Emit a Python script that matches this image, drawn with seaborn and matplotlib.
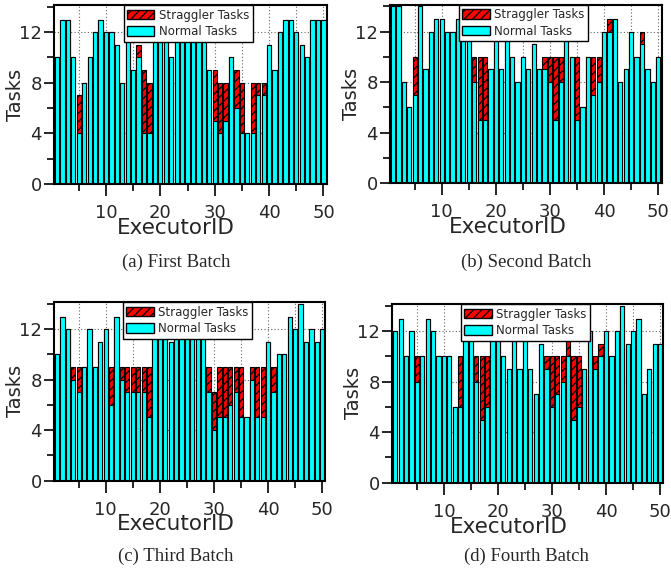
import matplotlib
matplotlib.use("Agg")
import matplotlib.pyplot as plt
from matplotlib.patches import Patch
from matplotlib.ticker import MultipleLocator
import pandas as pd
import seaborn as sns

executors = list(range(1, 51))

normal_a = [10, 13, 13, 10, 4, 8, 10, 12, 13, 12,
            12, 11, 8, 12, 9, 10, 4, 4, 13, 13,
            12, 10, 12, 13, 13, 12, 12, 13, 9, 5,
            4, 5, 10, 6, 4, 4, 4, 7, 7, 11,
            9, 12, 13, 13, 12, 11, 10, 13, 13, 13]
straggler_a = [0, 0, 0, 0, 3, 0, 0, 0, 0, 0,
               0, 0, 0, 0, 0, 1, 5, 4, 0, 0,
               0, 0, 0, 0, 0, 0, 0, 0, 0, 4,
               4, 3, 0, 3, 4, 0, 4, 1, 1, 0,
               0, 0, 0, 0, 0, 0, 0, 0, 0, 0]

normal_b = [14, 14, 8, 6, 7, 14, 9, 12, 13, 13,
            12, 12, 13, 12, 12, 8, 5, 5, 9, 12,
            9, 12, 10, 8, 10, 9, 11, 9, 9, 8,
            5, 8, 12, 10, 5, 6, 10, 7, 8, 12,
            12, 13, 8, 9, 12, 10, 11, 9, 8, 10]
straggler_b = [0, 0, 0, 0, 3, 0, 0, 0, 0, 0,
               0, 0, 0, 0, 0, 2, 5, 5, 0, 0,
               0, 0, 0, 0, 0, 0, 0, 0, 1, 2,
               5, 2, 0, 0, 5, 0, 0, 3, 2, 0,
               1, 0, 0, 0, 0, 0, 1, 0, 0, 0]

normal_c = [10, 13, 12, 8, 7, 9, 12, 9, 11, 12,
            6, 13, 8, 7, 7, 7, 7, 5, 12, 13,
            12, 11, 12, 13, 12, 12, 13, 12, 7, 4,
            5, 5, 6, 7, 5, 5, 8, 5, 5, 11,
            7, 10, 10, 13, 12, 14, 11, 12, 11, 12]
straggler_c = [0, 0, 0, 1, 2, 0, 0, 0, 0, 0,
               3, 0, 1, 2, 2, 2, 2, 4, 0, 0,
               0, 0, 0, 0, 0, 0, 0, 0, 2, 3,
               4, 4, 3, 2, 4, 0, 1, 4, 4, 0,
               2, 0, 0, 0, 0, 0, 0, 0, 0, 0]

normal_d = [12, 13, 10, 12, 8, 10, 13, 12, 10, 10,
            10, 6, 6, 12, 12, 8, 5, 6, 12, 12,
            10, 9, 12, 9, 12, 9, 7, 11, 9, 6,
            7, 8, 10, 5, 6, 9, 12, 9, 10, 12,
            10, 12, 14, 11, 12, 13, 7, 9, 11, 11]
straggler_d = [0, 0, 0, 0, 2, 0, 0, 0, 0, 0,
               0, 0, 4, 0, 0, 2, 5, 4, 0, 0,
               0, 0, 0, 0, 0, 0, 0, 0, 1, 4,
               3, 2, 2, 5, 4, 0, 0, 1, 1, 0,
               0, 0, 0, 0, 0, 0, 0, 0, 0, 0]

captions = ["(a) First Batch", "(b) Second Batch", "(c) Third Batch", "(d) Fourth Batch"]
series_labels = ["Straggler Tasks", "Normal Tasks"]
x_label = "ExecutorID"
y_label = "Tasks"

sns.set_style("ticks")
plt.rcParams['font.family'] = ['DejaVu Sans']
plt.rcParams['hatch.color'] = 'black'
plt.rcParams['hatch.linewidth'] = 0.9

CYAN = '#00FFFF'
RED = '#FF0000'

W, H = 671, 572
fig = plt.figure(figsize=(W / 100, H / 100), dpi=100)

# (left, top, right, bottom) in pixels
rects_px = [(53.5, 5, 326.7, 184), (389.5, 4.5, 661.5, 183),
            (53.5, 302, 325.5, 480.5), (391.7, 304, 663.3, 482.7)]
caption_xy = [(176, 262), (526, 262), (176, 556), (526, 556)]
xlabel_cx = [176, 508, 176, 509]

datasets = [(normal_a, straggler_a), (normal_b, straggler_b),
            (normal_c, straggler_c), (normal_d, straggler_d)]

for (l, t, r, b), (normal, strag), cap, (cx, cy), xlc in zip(
        rects_px, datasets, captions, caption_xy, xlabel_cx):
    ax = fig.add_axes([l / W, 1 - b / H, (r - l) / W, (b - t) / H])
    df = pd.DataFrame({
        'executor': executors,
        'normal': normal,
        'total': [n + s for n, s in zip(normal, strag)],
    })
    sns.barplot(data=df, x='executor', y='total', native_scale=True, color=RED,
                saturation=1, edgecolor='black', linewidth=0.8, hatch='////',
                width=0.78, errorbar=None, ax=ax, zorder=2)
    sns.barplot(data=df, x='executor', y='normal', native_scale=True, color=CYAN,
                saturation=1, edgecolor='black', linewidth=0.8,
                width=0.78, errorbar=None, ax=ax, zorder=2)
    ax.set_xlim(0.35, 50.6)
    ax.set_ylim(0, 14.15)
    ax.xaxis.set_major_locator(MultipleLocator(10))
    ax.xaxis.set_minor_locator(MultipleLocator(5))
    ax.yaxis.set_major_locator(MultipleLocator(4))
    ax.yaxis.set_minor_locator(MultipleLocator(2))
    ax.tick_params(which='major', direction='out', length=8.5, width=1.2,
                   labelsize=13, color='black')
    ax.tick_params(axis='x', which='major', pad=6)
    ax.tick_params(axis='y', which='major', length=7, pad=1.5)
    ax.tick_params(which='minor', direction='out', length=5, width=1.2, color='black')
    ax.set_axisbelow(True)
    ax.grid(True, which='both', axis='x', linestyle=(0, (1, 2)), color='#666666', linewidth=0.8)
    ax.grid(True, which='major', axis='y', linestyle=(0, (1, 2)), color='#666666', linewidth=0.8)
    for sp in ax.spines.values():
        sp.set_visible(True)
        sp.set_linewidth(1.5)
        sp.set_color('black')
    ax.set_xlabel(x_label, fontsize=15.5)
    ax.set_ylabel(y_label, fontsize=14)
    ax.xaxis.set_label_coords((xlc - l) / (r - l), -(218 - 184) / 179)
    ax.yaxis.set_label_coords((25 - 53.5) / 272, 0.5)
    handles = [Patch(facecolor=RED, edgecolor='black', hatch='////', label=series_labels[0]),
               Patch(facecolor=CYAN, edgecolor='black', label=series_labels[1])]
    leg = ax.legend(handles=handles, loc='upper center', bbox_to_anchor=(0.493, 1.0),
                    borderaxespad=0, fontsize=8.5, frameon=True, fancybox=False,
                    edgecolor='black', framealpha=1, handlelength=2.3,
                    handleheight=0.85, borderpad=0.3, labelspacing=0.3,
                    handletextpad=0.4)
    leg.get_frame().set_linewidth(1.0)
    leg.set_zorder(5)
    fig.text(cx / W, 1 - cy / H, cap, ha='center', va='center',
             fontsize=13.5, family=['Liberation Serif', 'DejaVu Serif'])

fig.savefig('out.png', dpi=100)
